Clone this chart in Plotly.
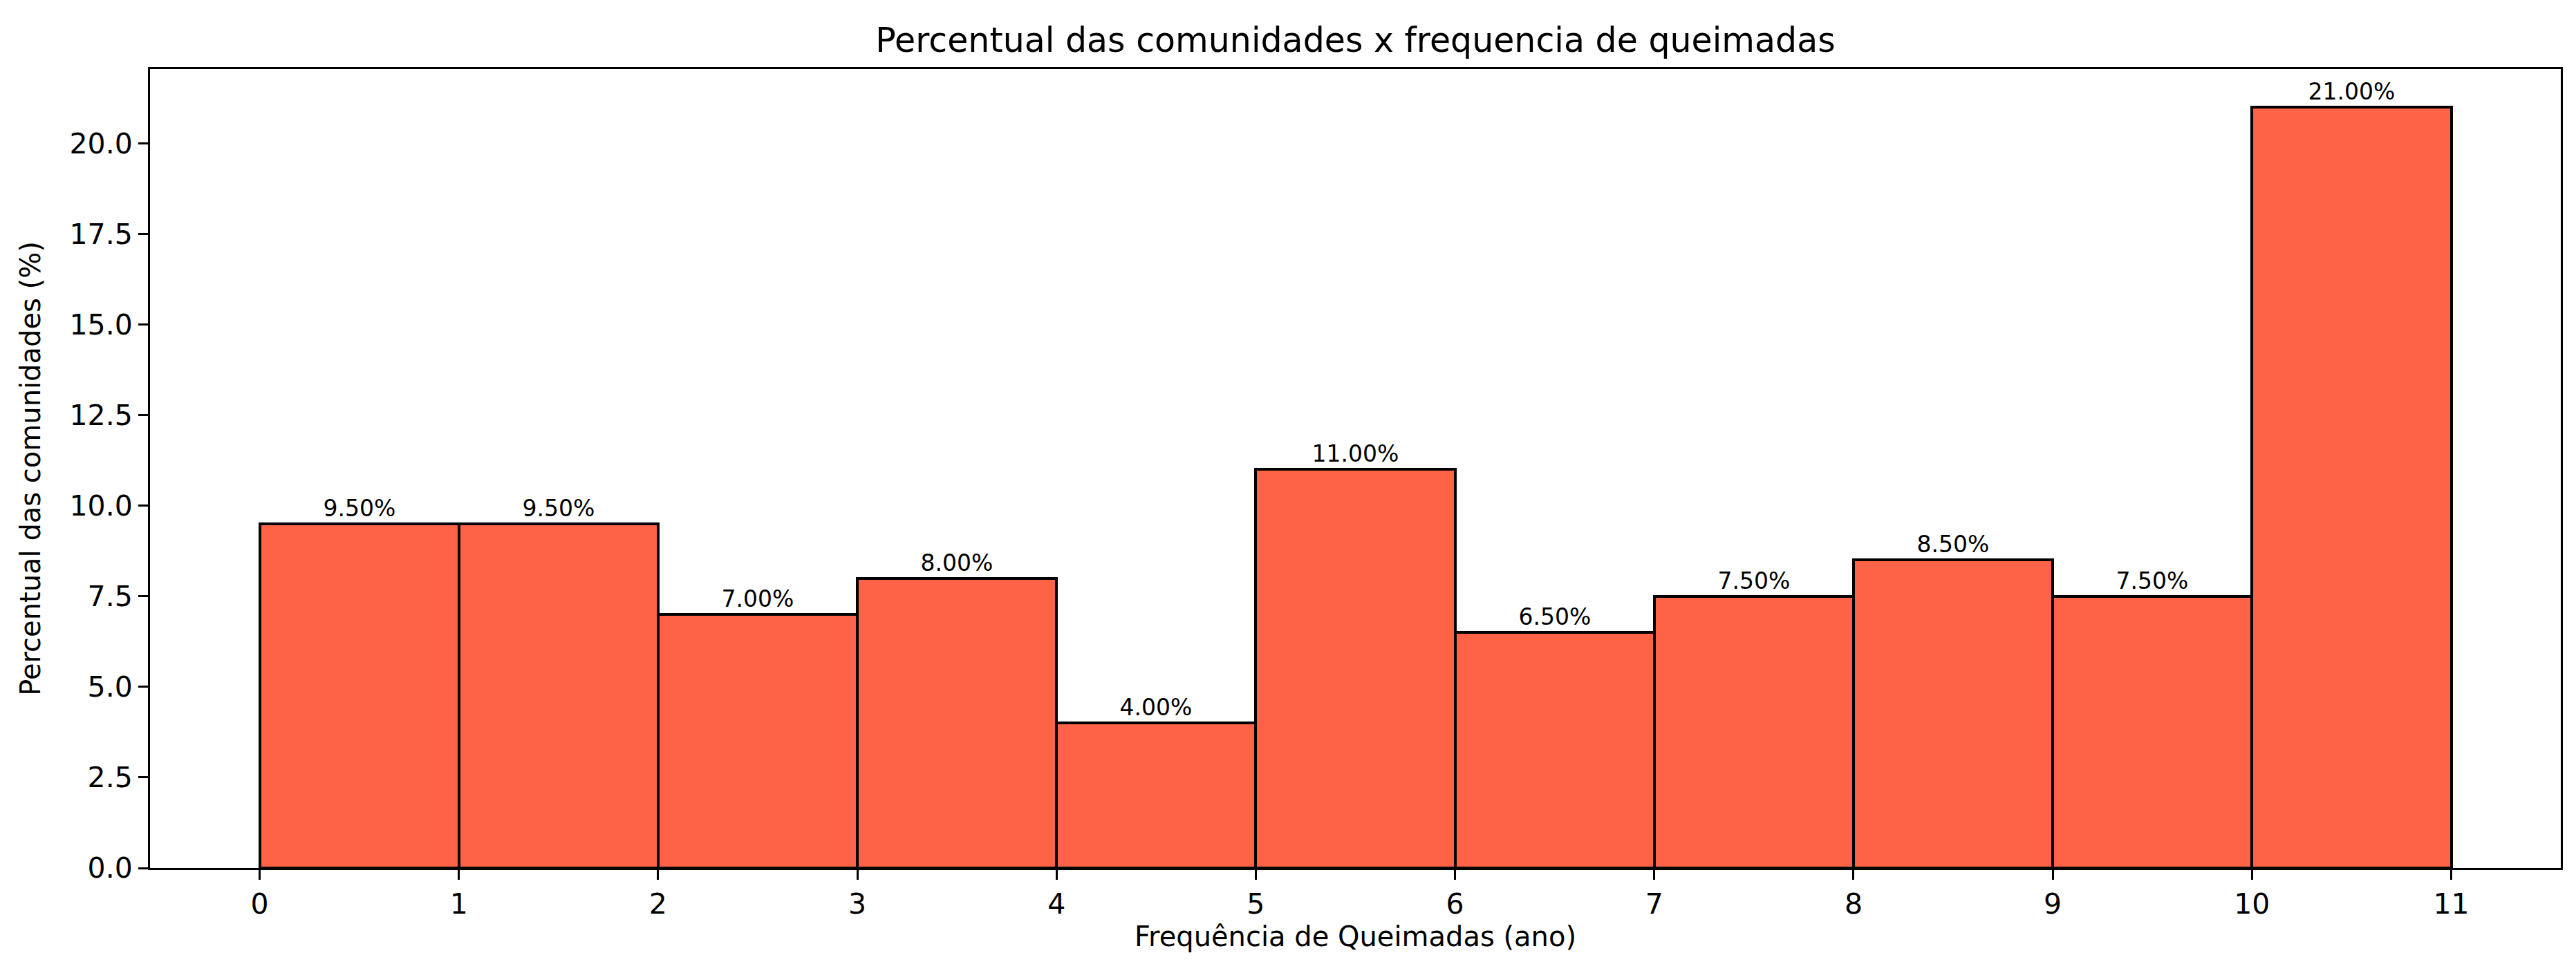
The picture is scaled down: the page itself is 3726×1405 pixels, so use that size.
import plotly.graph_objects as go

# frequencia de queimadas (ano), bins de largura 1
bin_inicio = [0, 1, 2, 3, 4, 5, 6, 7, 8, 9, 10]
percentual = [9.5, 9.5, 7.0, 8.0, 4.0, 11.0, 6.5, 7.5, 8.5, 7.5, 21.0]
x_ticks = list(range(0, 12))
y_ticks = [0.0, 2.5, 5.0, 7.5, 10.0, 12.5, 15.0, 17.5, 20.0]

W, H = 3726, 1405
fonte = "DejaVu Sans"

fig = go.Figure()

fig.add_trace(go.Bar(
    x=[b + 0.5 for b in bin_inicio],
    y=percentual,
    width=1,
    marker=dict(color="#FF6347", line=dict(color="black", width=4)),
    text=[f"{v:.2f}%" for v in percentual],
    textposition="outside",
    textfont=dict(family=fonte, size=33, color="black"),
    cliponaxis=False,
    showlegend=False,
))

fig.update_layout(
    width=W,
    height=H,
    margin=dict(l=209, r=30, t=92, b=157, autoexpand=False),
    paper_bgcolor="white",
    plot_bgcolor="white",
    font=dict(family=fonte, size=40, color="black"),
    bargap=0,
    title=dict(
        text="Percentual das comunidades x frequencia de queimadas",
        x=0.5,
        xref="paper",
        xanchor="center",
        y=1 - 50 / H,
        yanchor="middle",
        font=dict(family=fonte, size=49, color="black"),
    ),
    xaxis=dict(
        range=[-0.55, 11.55],
        tickvals=x_ticks,
        ticktext=[str(t) for t in x_ticks],
        showgrid=False,
        zeroline=False,
        showline=True,
        linecolor="black",
        linewidth=3,
        mirror=True,
        ticks="outside",
        ticklen=14,
        tickwidth=3,
        tickcolor="black",
        tickfont=dict(size=41),
        title=dict(text="Frequência de Queimadas (ano)", standoff=6,
                   font=dict(size=40)),
        automargin=False,
    ),
    yaxis=dict(
        range=[0, 22.05],
        tickvals=y_ticks,
        ticktext=[f"{t:.1f}" for t in y_ticks],
        showgrid=False,
        zeroline=False,
        showline=True,
        linecolor="black",
        linewidth=3,
        mirror=True,
        ticks="outside",
        ticklen=14,
        tickwidth=3,
        tickcolor="black",
        tickfont=dict(size=41),
        title=dict(text="Percentual das comunidades (%)", standoff=30,
                   font=dict(size=40)),
        automargin=False,
    ),
)

fig.write_html("out.html")
